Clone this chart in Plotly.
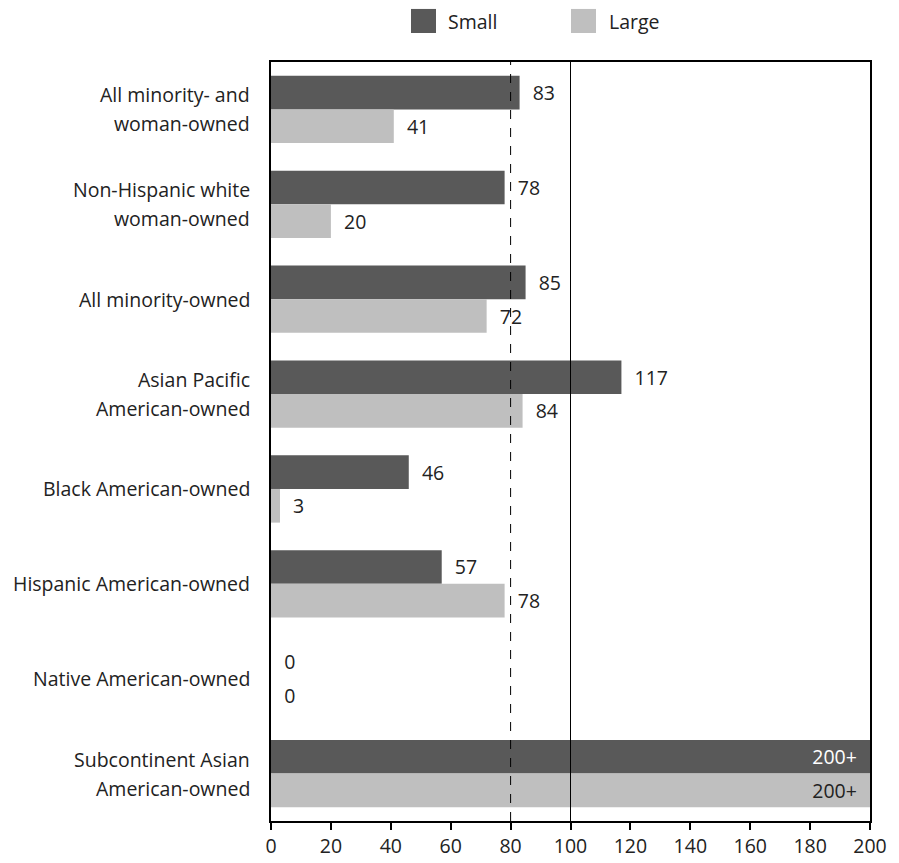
import plotly.graph_objects as go

# Categories, top to bottom
categories = [
    "All minority- and\nwoman-owned",
    "Non-Hispanic white\nwoman-owned",
    "All minority-owned",
    "Asian Pacific\nAmerican-owned",
    "Black American-owned",
    "Hispanic American-owned",
    "Native American-owned",
    "Subcontinent Asian\nAmerican-owned",
]
series_names = ["Small", "Large"]
small_values = [83, 78, 85, 117, 46, 57, 0, 200]
large_values = [41, 20, 72, 84, 3, 78, 0, 200]
capped = [False, False, False, False, False, False, False, True]  # value runs past the axis end
x_ticks = list(range(0, 201, 20))
ref_dashed = 80
ref_solid = 100

AXIS_MAX = 200
FONT = "Open Sans"
FS = 19.5
TEXT_COLOR = "#222222"
COLORS = {"Small": "#595959", "Large": "#bfbfbf"}
INSIDE_TEXT = {"Small": "#ffffff", "Large": "#222222"}

NBSP = "\u00a0"
fig = go.Figure()

for name, vals in zip(series_names, [small_values, large_values]):
    texts, positions, colors = [], [], []
    for v, c in zip(vals, capped):
        if c:
            texts.append(f"{v}+" + NBSP * 2)
            positions.append("inside")
            colors.append(INSIDE_TEXT[name])
        else:
            texts.append(NBSP * 2 + str(v))
            positions.append("outside")
            colors.append(TEXT_COLOR)
    fig.add_trace(go.Bar(
        name=name,
        orientation="h",
        x=vals,
        y=categories,
        marker=dict(color=COLORS[name], line=dict(width=0)),
        text=texts,
        textposition=positions,
        insidetextanchor="end",
        textfont=dict(family=FONT, size=FS, color=colors),
        cliponaxis=False,
        showlegend=False,
        hoverinfo="skip",
    ))

# Reference lines
fig.add_shape(type="line", xref="x", yref="paper", x0=ref_dashed, x1=ref_dashed, y0=0, y1=1,
              line=dict(color="black", width=1, dash="dash"), layer="above")
fig.add_shape(type="line", xref="x", yref="paper", x0=ref_solid, x1=ref_solid, y0=0, y1=1,
              line=dict(color="black", width=1), layer="above")

# Category labels, one annotation per line
for cat in categories:
    lines = cat.split("\n")
    n = len(lines)
    for i, line in enumerate(lines):
        shift = (i - (n - 1) / 2) * 29
        fig.add_annotation(
            xref="paper", yref="y", x=0, y=cat, text=line, showarrow=False,
            xanchor="right", yanchor="middle", xshift=-19, yshift=-shift,
            font=dict(family=FONT, size=FS, color=TEXT_COLOR),
        )

# Legend drawn at the top
legend_pos = {"Small": (0.2337, 0.2925), "Large": (0.5008, 0.5613)}
for name in series_names:
    sx, tx = legend_pos[name]
    fig.add_shape(type="rect", xref="paper", yref="paper",
                  x0=sx, x1=sx + 0.0418, y0=1.0382, y1=1.0699,
                  fillcolor=COLORS[name], line=dict(width=0))
    fig.add_annotation(xref="paper", yref="paper", x=tx, y=1.054, text=name,
                       showarrow=False, xanchor="left", yanchor="middle",
                       font=dict(family=FONT, size=FS, color=TEXT_COLOR))

fig.update_layout(
    width=899, height=863,
    margin=dict(l=271, r=29, t=62, b=42),
    paper_bgcolor="white", plot_bgcolor="white",
    barmode="group", bargap=0.29, bargroupgap=0,
    font=dict(family=FONT, size=FS, color=TEXT_COLOR),
    xaxis=dict(
        range=[0, AXIS_MAX], tickvals=x_ticks, ticks="outside", ticklen=7,
        tickwidth=1.5, tickcolor="black", showgrid=False, zeroline=False,
        showline=True, linecolor="black", linewidth=2, mirror=True,
        ticklabelstandoff=0, automargin=False,
        tickfont=dict(family=FONT, size=FS, color=TEXT_COLOR),
    ),
    yaxis=dict(
        autorange="reversed", showticklabels=False, ticks="", showgrid=False,
        zeroline=False, showline=True, linecolor="black", linewidth=2, mirror=True,
        automargin=False,
    ),
)

fig.write_html("out.html")
